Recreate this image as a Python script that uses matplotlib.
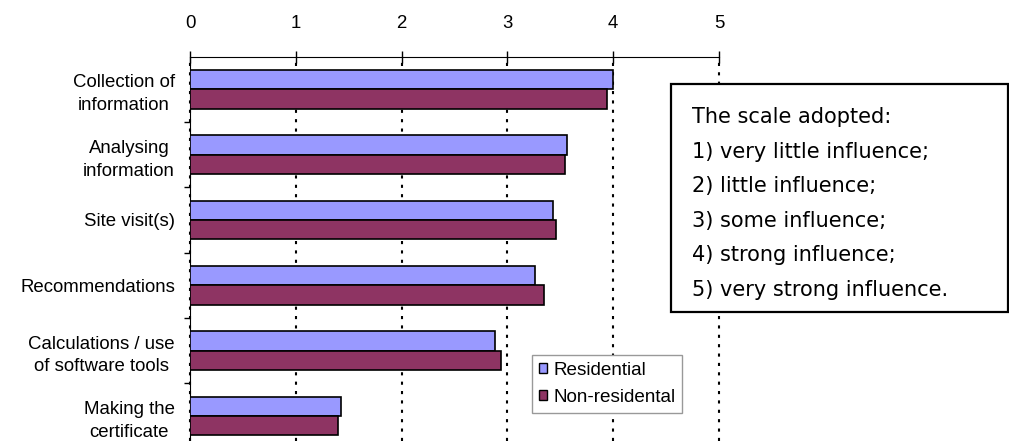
import numpy as np
import matplotlib.pyplot as plt
from matplotlib.patches import Patch, Rectangle

categories = ['Collection of\ninformation', 'Analysing\ninformation', 'Site visit(s)',
              'Recommendations', 'Calculations / use\nof software tools', 'Making the\ncertificate']
residential = [4.00, 3.56, 3.43, 3.26, 2.88, 1.43]
non_residential = [3.94, 3.54, 3.46, 3.35, 2.94, 1.40]
series_names = ['Residential', 'Non-residental']
scale_lines = ['The scale adopted:',
               '1) very little influence;',
               '2) little influence;',
               '3) some influence;',
               '4) strong influence;',
               '5) very strong influence.']

W, H = 1009, 441
res_col = '#9999FF'
non_col = '#8E3463'

fig = plt.figure(figsize=(W / 100, H / 100), dpi=100)
# axes runs past the bottom of the picture, like the cropped original
ax = fig.add_axes([190 / W, 0, (719 - 190) / W, 1 - 56.7 / H])

pos = np.arange(len(categories))
h = 0.295
ax.barh(pos - h / 2, residential, h, color=res_col, edgecolor='black', linewidth=1.2, zorder=3)
ax.barh(pos + h / 2, non_residential, h, color=non_col, edgecolor='black', linewidth=1.2, zorder=3)

ax.set_xlim(0, 5)
ax.set_ylim(-0.5 + 384.3 / 65.3, -0.5)

lab_font = dict(family='Liberation Sans', size=13.4)
ax.xaxis.tick_top()
ax.set_xticks(range(6))
ax.set_xticklabels([str(i) for i in range(6)], **lab_font)
ax.tick_params(axis='x', direction='inout', length=8.6, width=1, pad=13.7)

ax.set_yticks(pos)
ax.set_yticklabels(categories, **lab_font)
for t in ax.get_yticklabels():
    t.set_multialignment('center')
    t.set_linespacing(1.45)
ax.tick_params(axis='y', which='major', length=0, pad=10.8)
ax.set_yticks(pos[:-1] + 0.5, minor=True)
ax.tick_params(axis='y', which='minor', length=4.5, width=1, direction='out')

ax.xaxis.grid(True, color='black', linestyle=(0, (1.5, 3)), linewidth=1.5, zorder=1)
for gl in ax.get_xgridlines():
    gl.set_clip_on(False)
ax.set_axisbelow(True)
ax.spines['right'].set_visible(False)
ax.spines['bottom'].set_visible(False)

handles = [Patch(facecolor=res_col, edgecolor='black'), Patch(facecolor=non_col, edgecolor='black')]
leg = ax.legend(handles, series_names, loc='upper left',
                bbox_to_anchor=(532 / W, 1 - 355 / H), bbox_transform=fig.transFigure,
                borderaxespad=0, fancybox=False, framealpha=1, edgecolor='#999999',
                prop=dict(family='Liberation Sans', size=13.6),
                handlelength=0.42, handleheight=0.42, handletextpad=0.35,
                labelspacing=0.55, borderpad=0.35)
leg.get_frame().set_linewidth(1)

# scale explanation box
box = Rectangle((671 / W, 1 - 312 / H), 337 / W, 228 / H, transform=fig.transFigure,
                facecolor='white', edgecolor='black', linewidth=1.6)
fig.add_artist(box)
for i, line in enumerate(scale_lines):
    fig.text(692 / W, 1 - (117 + 34.6 * i) / H, line, ha='left', va='center',
             family='DejaVu Sans', size=15)

fig.savefig('out.png', dpi=100)
